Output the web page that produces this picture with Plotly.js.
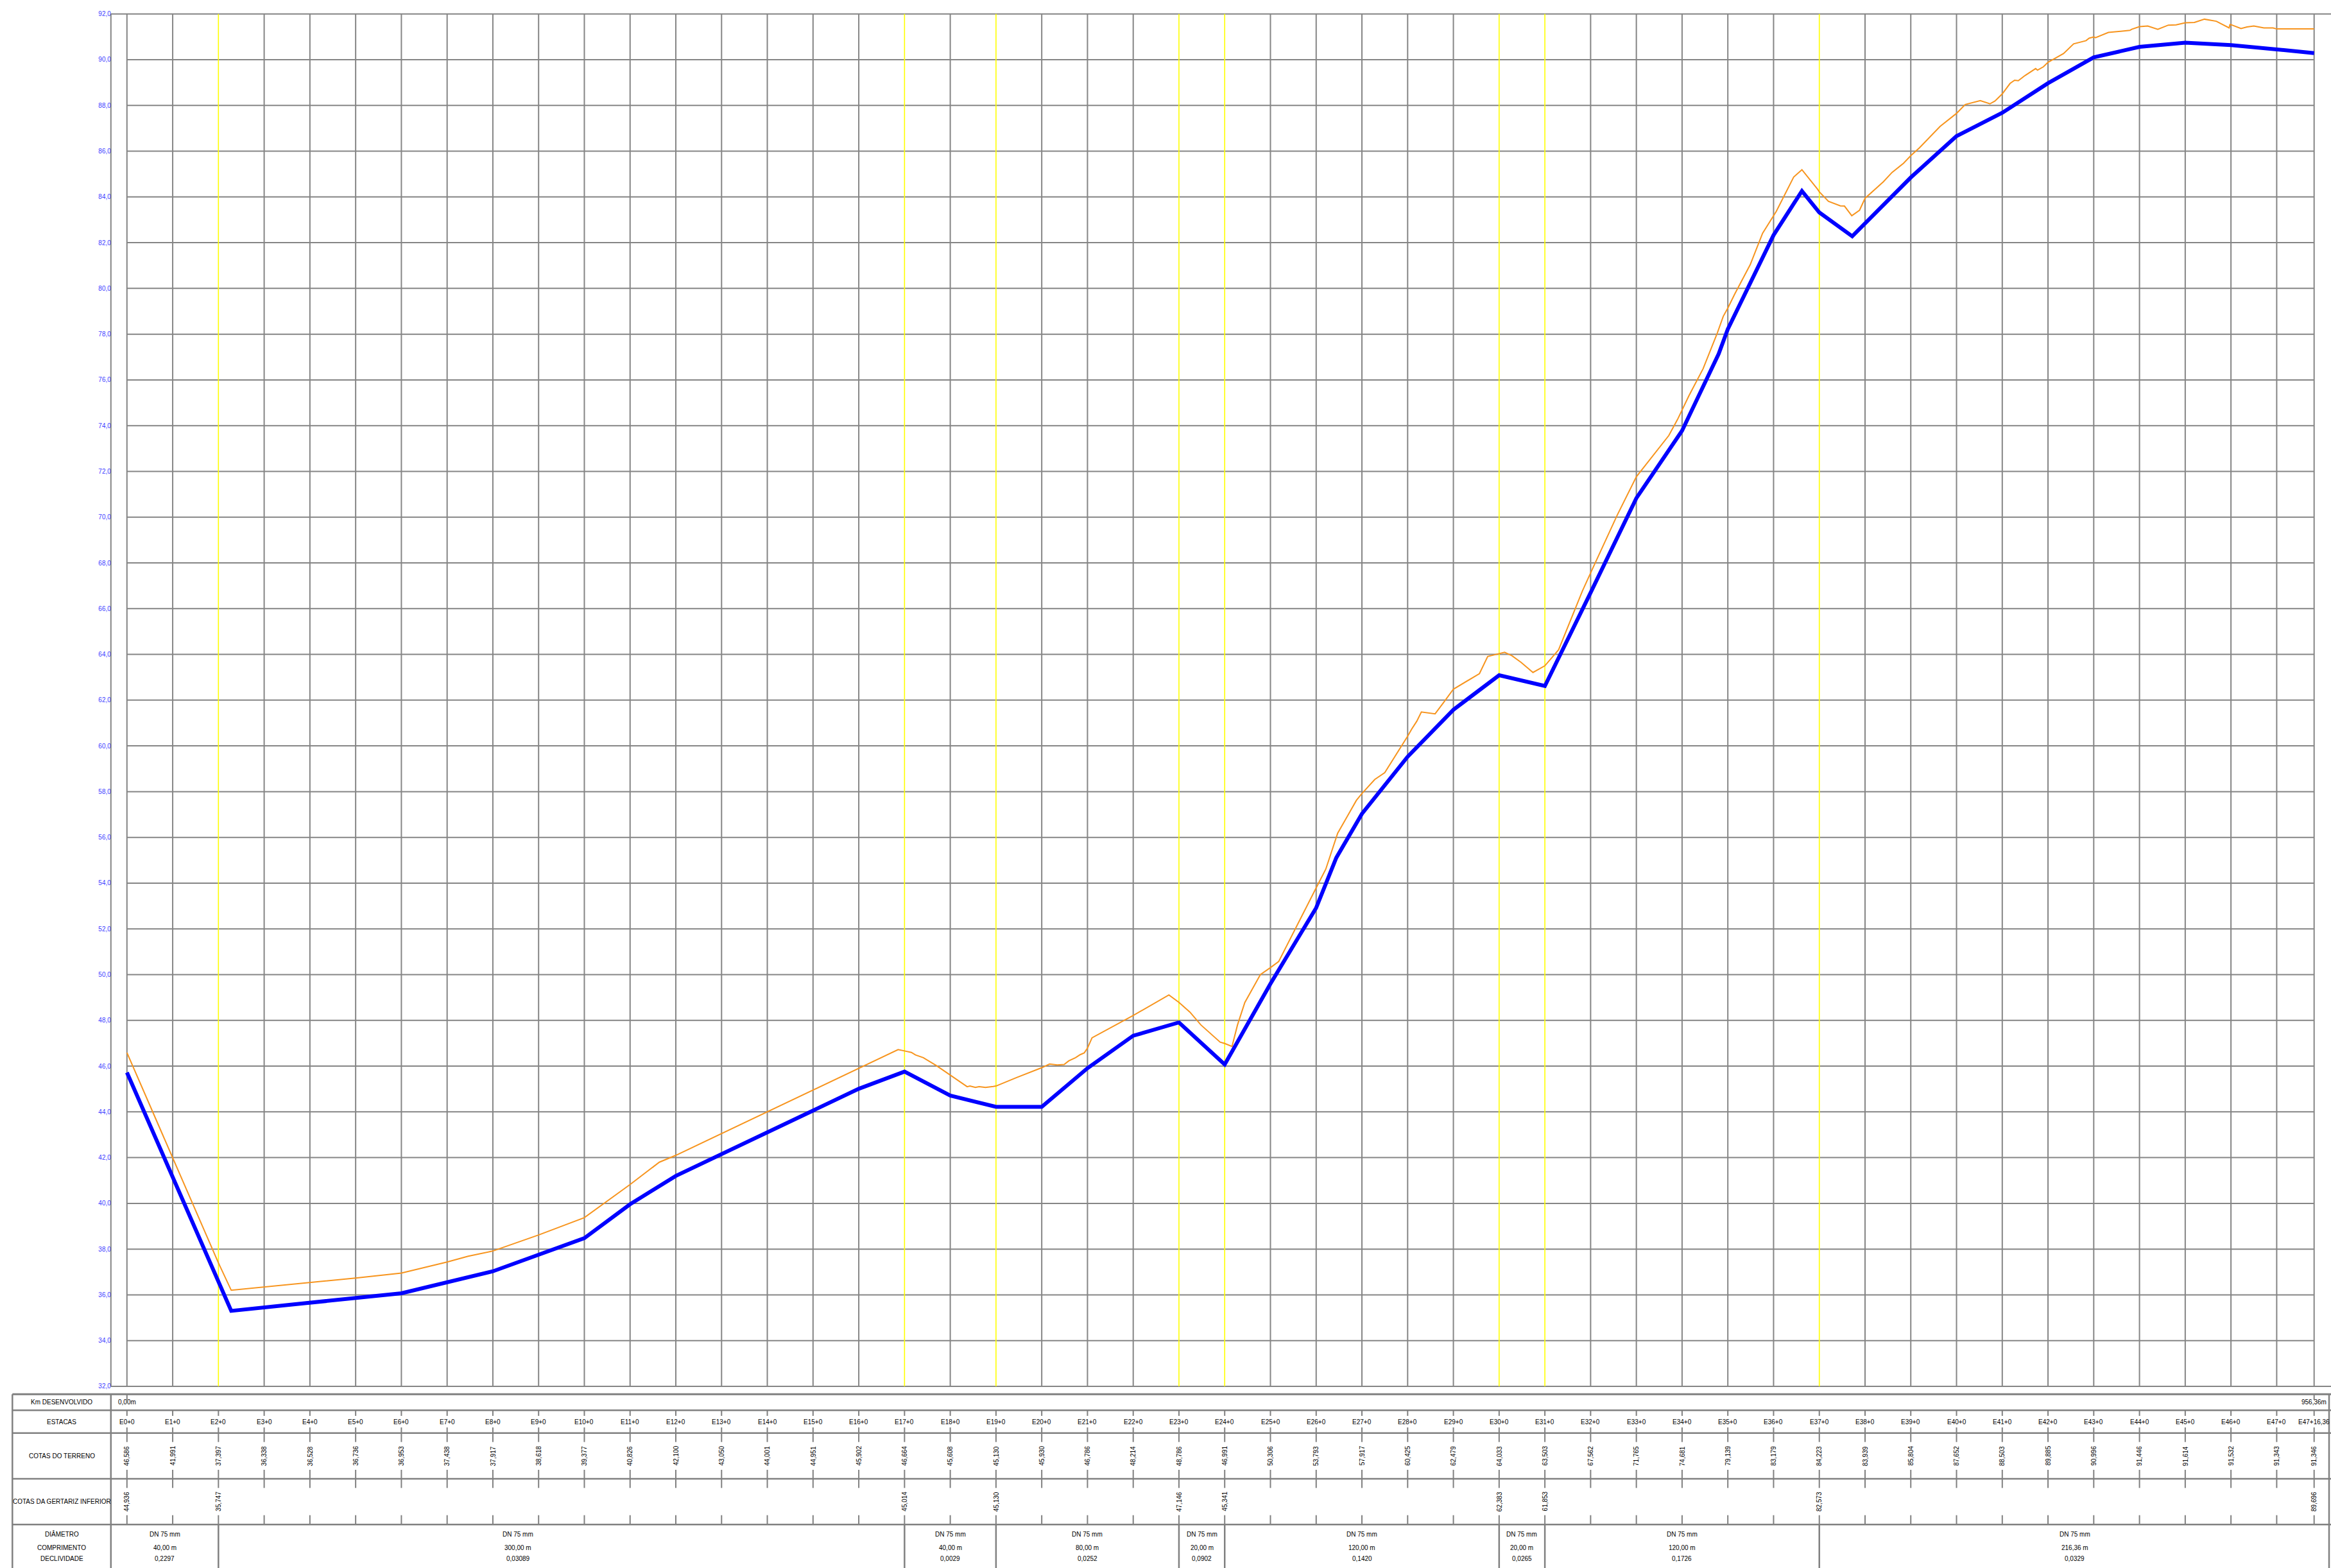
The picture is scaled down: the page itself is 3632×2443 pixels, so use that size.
<!DOCTYPE html>
<html><head><meta charset="utf-8">
<script src="https://cdn.plot.ly/plotly-3.0.1.min.js"></script>
<style>html,body{margin:0;padding:0;background:#fff;}#chart{width:3632px;height:2443px;}</style>
</head><body><div id="chart"></div>
<script>
// ---------------- DATA ----------------
const stationLabels = ["E0+0","E1+0","E2+0","E3+0","E4+0","E5+0","E6+0","E7+0","E8+0","E9+0","E10+0","E11+0","E12+0","E13+0","E14+0","E15+0","E16+0","E17+0","E18+0","E19+0","E20+0","E21+0","E22+0","E23+0","E24+0","E25+0","E26+0","E27+0","E28+0","E29+0","E30+0","E31+0","E32+0","E33+0","E34+0","E35+0","E36+0","E37+0","E38+0","E39+0","E40+0","E41+0","E42+0","E43+0","E44+0","E45+0","E46+0","E47+0","E47+16,36"];
const stationKm = [0,20,40,60,80,100,120,140,160,180,200,220,240,260,280,300,320,340,360,380,400,420,440,460,480,500,520,540,560,580,600,620,640,660,680,700,720,740,760,780,800,820,840,860,880,900,920,940,956.36];
const terrainAtStation = [46.586,41.991,37.397,36.338,36.528,36.736,36.953,37.438,37.917,38.618,39.377,40.826,42.100,43.050,44.001,44.951,45.902,46.664,45.608,45.130,45.930,46.786,48.214,48.786,46.991,50.306,53.793,57.917,60.425,62.479,64.033,63.503,67.562,71.765,74.681,79.139,83.179,84.223,83.939,85.804,87.652,88.503,89.885,90.996,91.446,91.614,91.532,91.343,91.346];
const invertKm = [0,40,340,380,460,480,600,620,740,956.36];
const invertElev = [44.936,35.747,45.014,45.130,47.146,45.341,62.383,61.853,82.573,89.696];
const segDiameter = ["DN 75 mm","DN 75 mm","DN 75 mm","DN 75 mm","DN 75 mm","DN 75 mm","DN 75 mm","DN 75 mm","DN 75 mm"];
const segLength = ["40,00 m","300,00 m","40,00 m","80,00 m","20,00 m","120,00 m","20,00 m","120,00 m","216,36 m"];
const segSlope = ["0,2297","0,03089","0,0029","0,0252","0,0902","0,1420","0,0265","0,1726","0,0329"];
const kmLabels = ["0,00m","956,36m"];
const rowLabels = ["Km DESENVOLVIDO","ESTACAS","COTAS DO TERRENO","COTAS DA GERTARIZ INFERIOR"];
const sectionLabels = ["DIÂMETRO","COMPRIMENTO","DECLIVIDADE"];

const terrainKm = [0,20,40,45.6,60,80,100,120,140,149.2,160,180,200,220,232.8,240,260,280,300,320,337.2,340,343,344.8,348.2,354,360,367.4,368.6,371,372.6,375.4,378.8,380,389,400,403.4,406.8,409.8,411.8,414.8,416.8,418.6,420,422,440,455.6,460,464.8,469.6,478,480,483.2,485.6,488.8,495.6,500,503.6,520,524.2,529.4,537.6,540,545.6,550,556.6,560,561.8,564,566,572,575.8,580,591.4,595,600,602.4,605.6,609.6,614.8,620,626,636.4,640,651.6,660,674.2,678,680,683,689.2,695.4,698,700,703,709.8,715.2,720,721.2,728.8,732.4,739.2,740,744,749.2,751,754.2,757.6,760,768,771.8,776.8,780,783.8,792.8,800,803.8,810.4,814.6,816.8,820,823.4,825.4,827,830,834.6,835.4,838,840,846.8,851.2,856.6,858,860,860.8,866.4,875.8,876.6,880,883.6,888,892.6,896,900,904,908.4,913.6,919.2,919.6,920,924.4,927,930,934.4,938.4,940,956.36];
const terrainElev = [46.586,41.991,37.397,36.20,36.338,36.528,36.736,36.953,37.438,37.69,37.917,38.618,39.377,40.826,41.80,42.100,43.050,44.001,44.951,45.902,46.72,46.664,46.60,46.49,46.37,46.02,45.608,45.10,45.13,45.07,45.10,45.07,45.11,45.130,45.50,45.930,46.09,46.05,46.07,46.23,46.37,46.50,46.58,46.786,47.24,48.214,49.11,48.786,48.36,47.80,47.05,46.991,46.86,47.80,48.78,50.00,50.306,50.57,53.793,54.61,56.18,57.62,57.917,58.53,58.83,59.87,60.425,60.74,61.08,61.48,61.40,61.91,62.479,63.16,63.91,64.033,64.09,63.94,63.65,63.21,63.503,64.20,66.77,67.562,70.08,71.765,73.57,74.27,74.681,75.31,76.49,78.05,78.78,79.139,79.75,81.04,82.41,83.179,83.37,84.87,85.19,84.34,84.223,83.81,83.61,83.60,83.18,83.42,83.939,84.66,85.07,85.47,85.804,86.15,87.08,87.652,88.04,88.21,88.07,88.19,88.503,88.96,89.10,89.08,89.31,89.61,89.54,89.69,89.885,90.27,90.69,90.83,90.94,90.996,90.96,91.19,91.28,91.33,91.446,91.47,91.33,91.51,91.52,91.614,91.63,91.77,91.68,91.39,91.54,91.532,91.36,91.43,91.47,91.39,91.39,91.343,91.346];

const pipeKm = [0,45.6,120,160,200,220,240,320,340,360,380,400,420,440,460,480,500,520,528.8,540,560,580,600,620,640,660,680,696,700,720,732.4,740,754.4,780,800,820,840,860,880,900,920,940,956.36];
const pipeElev = [45.72,35.30,36.07,37.03,38.48,39.96,41.20,45.01,45.76,44.71,44.22,44.22,45.91,47.33,47.91,46.07,49.6,52.92,55.11,57.03,59.53,61.58,63.09,62.62,66.70,70.83,73.78,77.14,78.22,82.33,84.26,83.32,82.28,84.85,86.66,87.68,88.97,90.10,90.56,90.74,90.64,90.47,90.29];

const yTicks = [32,34,36,38,40,42,44,46,48,50,52,54,56,58,60,62,64,66,68,70,72,74,76,78,80,82,84,86,88,90,92];

// ---------------- LAYOUT GEOMETRY ----------------
const W = 3632, H = 2443;
const KM0PX = 197.8, PXPERM = 3.5634;
const Y92PX = 21.7, PXPERU = 35.638;
const pxToKm = px => (px - KM0PX) / PXPERM;
const pyToVal = py => 92 - (py - Y92PX) / PXPERU;
const PX = px => px / W;
const PY = py => 1 - py / H;
const AXIS_PX = 172.8, TABLE_LEFT = 19.3, TABLE_RIGHT = 3629;
const rowY = [2172.3, 2197.3, 2232.7, 2304, 2375.3];
const GRAY = '#858585', TGRAY = '#808080', YELLOW = '#ffff00';
const FONT = 'Liberation Sans, Arial, sans-serif';
// segment label anchors (km) as placed in the reference drawing
const segTextKm = [16.5, 171, 360, 420, 470, 540, 610, 680, 851.7];

const fmt3 = v => v.toFixed(3).replace('.', ',');

const shapes = [];
const annotations = [];
function lineShape(xref, yref, x0, y0, x1, y1, color, width) {
  shapes.push({type:'line', xref, yref, x0, y0, x1, y1, layer:'below', line:{color, width}});
}
function text(xref, x, py, t, opts) {
  annotations.push(Object.assign({xref, yref:'paper', x, y:PY(py), text:t, showarrow:false,
    xanchor:'center', yanchor:'middle', font:{family:FONT, size:10, color:'#000'}}, opts||{}));
}

// plot frame and grid
const frameKm = pxToKm(AXIS_PX), rightKm = pxToKm(W);
const lastKm = stationKm[stationKm.length-1];
lineShape('x','y', frameKm, 32, frameKm, 92, GRAY, 2);
lineShape('x','y', frameKm, 92, rightKm, 92, GRAY, 2);
lineShape('x','y', frameKm, 32, rightKm, 32, GRAY, 2);
yTicks.forEach(v => { if (v > 32 && v < 92) lineShape('x','y', 0, v, lastKm, v, GRAY, 2); });
const breakKm = invertKm.slice(1, -1);
stationKm.forEach(k => {
  const isBreak = breakKm.includes(k);
  lineShape('x','y', k, 32, k, 92, isBreak ? YELLOW : GRAY, isBreak ? 1.6 : 2);
});

// table frame
rowY.forEach((y, i) => lineShape('paper','paper', PX(TABLE_LEFT), PY(y), PX(W), PY(y), TGRAY, i === 0 ? 3 : 2.5));
[TABLE_LEFT, AXIS_PX, TABLE_RIGHT].forEach(x => lineShape('paper','paper', PX(x), PY(rowY[0]), PX(x), PY(H), TGRAY, 2.5));

// km row ticks & labels
[stationKm[0], lastKm].forEach((k, i) => {
  shapes.push({type:'line', xref:'x', yref:'paper', x0:k, x1:k, y0:PY(rowY[0]), y1:PY(rowY[0]+9), layer:'below', line:{color:TGRAY, width:2}});
  text('x', k, 2184.7, kmLabels[i]);
});

// row ticks per station
const tickSpans = [[2197.3,2206],[2224,2232.7],[2232.7,2246.7],[2290,2304],[2304,2318.3],[2360.7,2375.3]];
stationKm.forEach((k, i) => {
  tickSpans.forEach(s => shapes.push({type:'line', xref:'x', yref:'paper', x0:k, x1:k, y0:PY(s[0]), y1:PY(s[1]), layer:'below', line:{color:TGRAY, width:2}}));
  text('x', k, 2215.7, stationLabels[i]);
  text('x', k, 2268.3, fmt3(terrainAtStation[i]), {textangle:-90});
});
invertKm.forEach((k, i) => text('x', k, 2339.3, fmt3(invertElev[i]), {textangle:-90}));

// bottom section dividers and segment texts
breakKm.forEach(k => shapes.push({type:'line', xref:'x', yref:'paper', x0:k, x1:k, y0:PY(rowY[4]), y1:PY(H), layer:'below', line:{color:TGRAY, width:2.5}}));
segLength.forEach((L, i) => {
  text('x', segTextKm[i], 2390.3, segDiameter[i]);
  text('x', segTextKm[i], 2411.3, L);
  text('x', segTextKm[i], 2428.3, segSlope[i]);
});

// row labels
const labelCx = (TABLE_LEFT + AXIS_PX) / 2;
[2184.7, 2215.7, 2268.3, 2339.3].forEach((y, i) => text('paper', PX(labelCx), y, rowLabels[i]));
[2390.3, 2411.3, 2428.3].forEach((y, i) => text('paper', PX(labelCx), y, sectionLabels[i]));

// ---------------- TRACES ----------------
const traces = [
  {type:'scatter', mode:'lines', x:terrainKm, y:terrainElev, name:'Terreno',
   line:{color:'#f7941d', width:2}, hoverinfo:'skip'},
  {type:'scatter', mode:'lines', x:pipeKm, y:pipeElev, name:'Tubulação',
   line:{color:'#0000ff', width:6}, hoverinfo:'skip'}
];

const layout = {
  width: W, height: H, autosize: false,
  margin: {l:0, r:0, t:0, b:0, pad:0},
  paper_bgcolor: '#fff', plot_bgcolor: 'rgba(0,0,0,0)',
  showlegend: false,
  separators: ',.',
  font: {family: FONT, size: 10, color: '#000'},
  xaxis: {domain:[0,1], range:[pxToKm(0), pxToKm(W)], visible:false, showgrid:false, zeroline:false, fixedrange:true},
  yaxis: {domain:[0,1], range:[pyToVal(H), pyToVal(0)], anchor:'free', position:PX(AXIS_PX),
          tickmode:'array', tickvals:yTicks, ticktext:yTicks.map(v => v.toFixed(1).replace('.', ',')),
          tickfont:{family:FONT, size:10, color:'#3c3cff'}, ticks:'', showgrid:false, zeroline:false,
          showline:false, fixedrange:true},
  shapes, annotations
};

Plotly.newPlot('chart', traces, layout, {staticPlot:true, displayModeBar:false});
</script>
</body></html>
